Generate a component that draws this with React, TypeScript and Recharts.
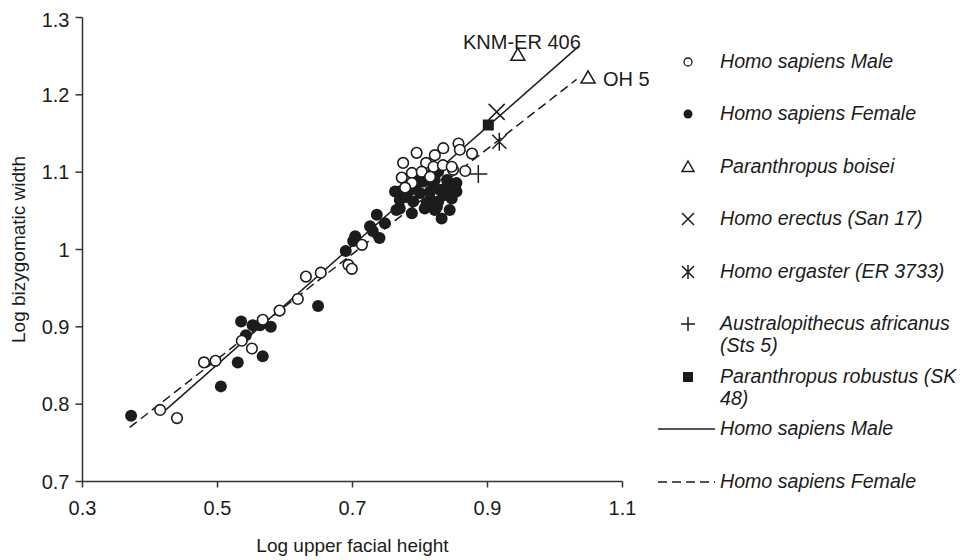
import { ScatterChart, Scatter, XAxis, YAxis, Legend, Label } from "recharts";

// x = log upper facial height, y = log bizygomatic width
const xTicks = [0.3, 0.5, 0.7, 0.9, 1.1];
const yTicks = [0.7, 0.8, 0.9, 1, 1.1, 1.2, 1.3];

const maleSapiens: [number, number][] = [
  [0.415, 0.7925], [0.44, 0.782], [0.48, 0.854], [0.497, 0.856], [0.536, 0.882],
  [0.551, 0.872], [0.567, 0.909], [0.592, 0.921], [0.619, 0.936], [0.631, 0.965],
  [0.653, 0.97], [0.694, 0.98], [0.699, 0.975], [0.714, 1.006], [0.773, 1.093],
  [0.775, 1.112], [0.788, 1.099], [0.795, 1.125], [0.809, 1.112], [0.822, 1.122],
  [0.8345, 1.131], [0.857, 1.137], [0.859, 1.129], [0.877, 1.124], [0.867, 1.1015],
  [0.849, 1.103], [0.8025, 1.1006], [0.82, 1.107], [0.834, 1.109], [0.815, 1.094],
  [0.788, 1.086], [0.847, 1.107], [0.778, 1.08],
];

const femaleSapiens: [number, number][] = [
  [0.372, 0.785], [0.505, 0.823], [0.53, 0.854], [0.567, 0.862], [0.535, 0.907],
  [0.542, 0.889], [0.552, 0.902], [0.563, 0.902], [0.579, 0.9], [0.649, 0.927],
  [0.69, 0.998], [0.701, 1.011], [0.704, 1.017], [0.726, 1.03], [0.73, 1.024],
  [0.74, 1.015], [0.736, 1.045], [0.748, 1.034], [0.765, 1.051], [0.77, 1.053],
  [0.77, 1.064], [0.77, 1.075], [0.763, 1.075], [0.785, 1.077], [0.788, 1.047],
  [0.79, 1.062], [0.8, 1.073], [0.795, 1.085], [0.805, 1.088], [0.807, 1.053],
  [0.81, 1.06], [0.815, 1.075], [0.822, 1.09], [0.822, 1.051], [0.825, 1.055],
  [0.827, 1.062], [0.827, 1.101], [0.818, 1.098], [0.83, 1.077], [0.832, 1.04],
  [0.84, 1.079], [0.84, 1.09], [0.844, 1.051], [0.847, 1.066], [0.854, 1.075],
  [0.854, 1.086], [0.78, 1.068], [0.8, 1.095], [0.815, 1.065], [0.835, 1.07],
  [0.82, 1.082],
];

const boisei: [number, number][] = [[0.945, 1.2515], [1.049, 1.222]];
const boiseiNames = ["KNM-ER 406", "OH 5"];
const erectusSan17: [number, number][] = [[0.9136, 1.178]];
const ergasterER3733: [number, number][] = [[0.9175, 1.1394]];
const africanusSts5: [number, number][] = [[0.8864, 1.0977]];
const robustusSK48: [number, number][] = [[0.9012, 1.161]];

// fitted lines, end points
const maleFit: [number, number][] = [[0.42, 0.79], [1.0345, 1.2623]];
const femaleFit: [number, number][] = [[0.37, 0.77], [1.032, 1.22]];

const legendLabels = [
  "Homo sapiens Male",
  "Homo sapiens Female",
  "Paranthropus boisei",
  "Homo erectus (San 17)",
  "Homo ergaster (ER 3733)",
  "Australopithecus africanus\n(Sts 5)",
  "Paranthropus robustus (SK\n48)",
  "Homo sapiens Male",
  "Homo sapiens Female",
];

const ink = "#1c1c1c";
const font = "'Liberation Sans', Arial, sans-serif";

const toPts = (arr: [number, number][], names?: string[]) =>
  arr.map(([x, y], i) => ({ x, y, name: names ? names[i] : undefined }));

const OpenCircle = ({ cx, cy }: any) => (
  <circle cx={cx} cy={cy} r={5.3} fill="#fff" stroke={ink} strokeWidth={1.6} />
);
const Dot = ({ cx, cy }: any) => <circle cx={cx} cy={cy} r={6} fill={ink} />;

const trianglePath = (cx: number, cy: number, s: number) =>
  `M${cx},${cy - s} L${cx + s},${cy + s * 0.75} L${cx - s},${cy + s * 0.75}Z`;

const Triangle = ({ cx, cy, payload }: any) => {
  const name = payload?.name;
  const isTop = name === "KNM-ER 406";
  return (
    <g>
      <path d={trianglePath(cx, cy, 7)} fill="#fff" stroke={ink} strokeWidth={1.5} />
      {name && (
        <text
          x={isTop ? cx + 4 : cx + 15}
          y={isTop ? cy - 6 : cy + 8}
          textAnchor={isTop ? "middle" : "start"}
          fontSize={20}
          fontFamily={font}
          fill={ink}
        >
          {name}
        </text>
      )}
    </g>
  );
};

const Cross = ({ cx, cy }: any) => (
  <path d={`M${cx - 8},${cy - 8} L${cx + 8},${cy + 8} M${cx + 8},${cy - 8} L${cx - 8},${cy + 8}`} stroke={ink} strokeWidth={1.5} />
);
const Asterisk = ({ cx, cy }: any) => (
  <path
    d={`M${cx - 7},${cy - 7} L${cx + 7},${cy + 7} M${cx + 7},${cy - 7} L${cx - 7},${cy + 7} M${cx},${cy - 9} L${cx},${cy + 9}`}
    stroke={ink}
    strokeWidth={1.5}
  />
);
const Plus = ({ cx, cy }: any) => (
  <path d={`M${cx - 9},${cy} L${cx + 9},${cy} M${cx},${cy - 9} L${cx},${cy + 9}`} stroke={ink} strokeWidth={1.5} />
);
const Square = ({ cx, cy }: any) => <rect x={cx - 5.5} y={cy - 5.5} width={11} height={11} fill={ink} />;
const NoShape = () => <g />;

function LegendIcon({ i }: { i: number }) {
  const c = 33;
  const m = 11;
  let el: any = null;
  if (i === 0) el = <circle cx={c} cy={m} r={4} fill="#fff" stroke={ink} strokeWidth={1.3} />;
  if (i === 1) el = <circle cx={c} cy={m} r={4.5} fill={ink} />;
  if (i === 2) el = <path d={trianglePath(c, m, 6)} fill="none" stroke={ink} strokeWidth={1.5} />;
  if (i === 3) el = <path d={`M${c - 6},${m - 6} L${c + 6},${m + 6} M${c + 6},${m - 6} L${c - 6},${m + 6}`} stroke={ink} strokeWidth={1.5} />;
  if (i === 4)
    el = (
      <path
        d={`M${c - 6},${m - 6} L${c + 6},${m + 6} M${c + 6},${m - 6} L${c - 6},${m + 6} M${c},${m - 7} L${c},${m + 7}`}
        stroke={ink}
        strokeWidth={1.5}
      />
    );
  if (i === 5) el = <path d={`M${c - 7},${m} L${c + 7},${m} M${c},${m - 7} L${c},${m + 7}`} stroke={ink} strokeWidth={1.5} />;
  if (i === 6) el = <rect x={c - 5} y={m - 5} width={10} height={10} fill={ink} />;
  if (i === 7) el = <line x1={3} y1={m} x2={60} y2={m} stroke={ink} strokeWidth={1.5} />;
  if (i === 8) el = <line x1={3} y1={m} x2={60} y2={m} stroke={ink} strokeWidth={1.5} strokeDasharray="9 5" />;
  return (
    <svg width={65} height={22} style={{ position: "absolute", left: 0, top: 0 }}>
      {el}
    </svg>
  );
}

const renderLegend = () => (
  <div style={{ fontFamily: font, fontSize: 19.6, fontStyle: "italic", color: ink }}>
    {legendLabels.map((t, i) => (
      <div key={i} style={{ position: "relative", height: 52.5 }}>
        <LegendIcon i={i} />
        <div style={{ position: "absolute", left: 65, top: 0, lineHeight: "21.7px", whiteSpace: "pre" }}>{t}</div>
      </div>
    ))}
  </div>
);

const XTitle = ({ viewBox }: any) => (
  <text x={viewBox.x + viewBox.width / 2} y={viewBox.y + 70} textAnchor="middle" fontSize={19} fontFamily={font} fill={ink}>
    Log upper facial height
  </text>
);

const YTitle = ({ viewBox }: any) => {
  const x = 10;
  const y = viewBox.y + viewBox.height / 2;
  return (
    <text x={x} y={y} transform={`rotate(-90, ${x}, ${y})`} textAnchor="middle" dy="0.35em" fontSize={19} fontFamily={font} fill={ink}>
      Log bizygomatic width
    </text>
  );
};

export default function App() {
  const tickStyle = { fontSize: 20, fontFamily: font, fill: ink };
  const axisLine = { stroke: "#333", strokeWidth: 1.5 };
  return (
    <div style={{ width: 949, height: 552 }}>
      <ScatterChart width={949} height={552} margin={{ top: 9.5, right: 334.5, bottom: 18.5, left: 0 }}>
        <XAxis
          type="number"
          dataKey="x"
          domain={[0.3, 1.1]}
          ticks={xTicks}
          height={60}
          tick={tickStyle}
          tickSize={6}
          tickMargin={13}
          axisLine={axisLine}
          tickLine={axisLine}
          tickFormatter={(v: number) => String(v)}
        >
          <Label content={<XTitle />} />
        </XAxis>
        <YAxis
          type="number"
          dataKey="y"
          domain={[0.7, 1.3]}
          ticks={yTicks}
          width={74.5}
          tick={tickStyle}
          tickSize={7}
          tickMargin={6}
          axisLine={axisLine}
          tickLine={axisLine}
          tickFormatter={(v: number) => String(v)}
        >
          <Label content={<YTitle />} />
        </YAxis>
        <Scatter data={toPts(maleFit)} shape={NoShape} line={{ stroke: ink, strokeWidth: 1.5 }} isAnimationActive={false} />
        <Scatter
          data={toPts(femaleFit)}
          shape={NoShape}
          line={{ stroke: ink, strokeWidth: 1.5, strokeDasharray: "9 5" }}
          isAnimationActive={false}
        />
        <Scatter name="Homo sapiens Female" data={toPts(femaleSapiens)} shape={Dot} isAnimationActive={false} />
        <Scatter name="Homo sapiens Male" data={toPts(maleSapiens)} shape={OpenCircle} isAnimationActive={false} />
        <Scatter name="Paranthropus boisei" data={toPts(boisei, boiseiNames)} shape={Triangle} isAnimationActive={false} />
        <Scatter name="Homo erectus (San 17)" data={toPts(erectusSan17)} shape={Cross} isAnimationActive={false} />
        <Scatter name="Homo ergaster (ER 3733)" data={toPts(ergasterER3733)} shape={Asterisk} isAnimationActive={false} />
        <Scatter name="Australopithecus africanus (Sts 5)" data={toPts(africanusSts5)} shape={Plus} isAnimationActive={false} />
        <Scatter name="Paranthropus robustus (SK 48)" data={toPts(robustusSK48)} shape={Square} isAnimationActive={false} />
        <Legend
          layout="vertical"
          align="center"
          verticalAlign="middle"
          content={renderLegend}
          wrapperStyle={{ left: 647, top: 42.85, width: 295 }}
        />
      </ScatterChart>
    </div>
  );
}
